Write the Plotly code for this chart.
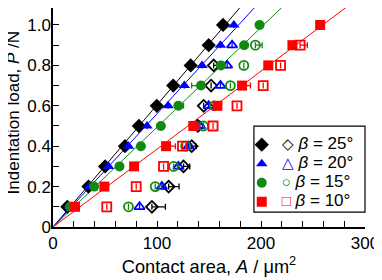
import numpy as np
import plotly.graph_objects as go

# ---- data ----
angles = ["25", "20", "15", "10"]
colors = ["#000000", "#0000ff", "#108a10", "#ff0000"]
sym_filled = ["diamond", "triangle-up", "circle", "square"]
sym_open = ["diamond-open", "triangle-up-open", "circle-open", "square-open"]
open_glyph = ["◇", "△", "○", "□"]

P_load = [0.1, 0.2, 0.3, 0.4, 0.5, 0.6, 0.7, 0.8, 0.9, 1.0]
A25_load = [13.8, 34.1, 50.1, 69.2, 82.6, 99.8, 115.6, 132.4, 149.7, 163.5]
A20_load = [14.8, 35.1, 53.4, 72.6, 90.4, 110.7, 126.3, 143.3, 161, 173.9]
A15_load = [16.3, 39.5, 63.9, 84.5, 103.7, 120.5, 142.3, 161.5, 183.8, 198.6]
A10_load = [21.2, 49.4, 78, 108.7, 134.9, 158.1, 181.8, 207, 230.2, 256.9]
E25_load_p = [0, 0, 0, 0, 0, 0, 0, 0, 0, 0]
E20_load_p = [0, 0, 0, 0, 0, 0, 0, 0, 0, 0]
E15_load_p = [0, 0, 0, 0, 0, 5, 0, 0, 0, 0]
E10_load_p = [0, 0, 0, 9, 6, 0, 8, 0, 0, 0]
E15_load_m = [0, 0, 0, 0, 0, 0, 9, 0, 0, 0]

P25_open = [0.1, 0.2, 0.3, 0.4, 0.5, 0.6, 0.7, 0.8]
A25_open = [95.1, 111.2, 125.5, 133.4, 139.3, 144.9, 152, 154.5]
E25_open = [13, 10, 6, 4, 0, 0, 0, 4]
P20_open = [0.1, 0.2, 0.3, 0.4, 0.5, 0.6, 0.7, 0.8, 0.9]
A20_open = [83.2, 104.7, 120.5, 130.4, 141.3, 149.7, 161, 167.5, 172.2]
E20_open = [0, 0, 0, 0, 0, 0, 0, 0, 0]
P15_open = [0.1, 0.2, 0.3, 0.4, 0.5, 0.6, 0.7, 0.8, 0.9]
A15_open = [72.6, 98.3, 116, 127.5, 144.7, 155.1, 170.6, 183.5, 194.6]
E15_open = [0, 0, 0, 0, 0, 0, 0, 0, 6.5]
P10_open = [0.1, 0.2, 0.3, 0.4, 0.5, 0.6, 0.7, 0.8, 0.9]
A10_open = [51.7, 80, 106.3, 124.5, 153.9, 176.9, 202.1, 218.8, 237.6]
E10_open = [0, 0, 0, 0, 0, 0, 0, 0, 7]

x_ticks = [0, 100, 200, 300]
y_ticks = [0, 0.2, 0.4, 0.6, 0.8, 1.0]
y_ticktext = ["0", "0.2", "0.4", "0.6", "0.8", "1.0"]

loads = [A25_load, A20_load, A15_load, A10_load]
loads_ep = [E25_load_p, E20_load_p, E15_load_p, E10_load_p]
loads_em = [None, None, E15_load_m, None]
opens = [(P25_open, A25_open, E25_open), (P20_open, A20_open, E20_open),
         (P15_open, A15_open, E15_open), (P10_open, A10_open, E10_open)]

FONT = "Liberation Sans, Arial, sans-serif"
fig = go.Figure()

# fitted lines through origin
P_arr = np.array(P_load)
for i in range(4):
    A = np.array(loads[i])
    slope = float(np.sum(A * P_arr) / np.sum(P_arr ** 2))
    Pl = np.array([0.0, 1.2])
    fig.add_trace(go.Scatter(x=slope * Pl, y=Pl, mode="lines",
                             line=dict(color=colors[i], width=1),
                             showlegend=False, hoverinfo="skip"))

# open markers (unloading)
for i in range(4):
    P, A, E = opens[i]
    fig.add_trace(go.Scatter(
        x=A, y=P, mode="markers",
        marker=dict(symbol=sym_open[i], size=9, color=colors[i],
                    line=dict(width=1.8, color=colors[i])),
        error_x=dict(type="data", symmetric=False, array=E,
                     arrayminus=[0] * len(E), color=colors[i],
                     thickness=1.3, width=3),
        showlegend=False))

# filled markers (loading)
for i in range(4):
    em = loads_em[i] if loads_em[i] is not None else [0] * len(P_load)
    fig.add_trace(go.Scatter(
        x=loads[i], y=P_load, mode="markers",
        marker=dict(symbol=sym_filled[i], size=11 if i == 0 else 10,
                    color=colors[i], line=dict(width=0)),
        error_x=dict(type="data", symmetric=False, array=loads_ep[i],
                     arrayminus=em, color=colors[i], thickness=1.3, width=3),
        name=(f'<span style="color:{colors[i]};font-size:15px">{open_glyph[i]}</span>'
              f'<span style="font-size:17px"> <i>β</i> = {angles[i]}°</span>'),
        showlegend=True))

fig.update_layout(
    width=374, height=272,
    margin=dict(l=45, r=17, t=0, b=53),
    paper_bgcolor="white", plot_bgcolor="white",
    font=dict(family=FONT, size=17, color="black"),
    showlegend=True,
    legend=dict(x=0.605, y=0.442, xanchor="left", yanchor="top",
                bgcolor="rgba(255,255,255,0)", borderwidth=0,
                font=dict(size=11.8), tracegroupgap=0, itemwidth=30),
    shapes=[dict(type="rect", xref="paper", yref="paper",
                 x0=0.644, x1=1.0, y0=0.068, y1=0.461,
                 line=dict(color="black", width=1.2),
                 fillcolor="white", layer="below")],
    annotations=[dict(text="Indentation load, <i>P</i> /N", textangle=-90,
                      xref="paper", yref="paper", x=-0.127, y=0.525,
                      xanchor="center", yanchor="middle", showarrow=False,
                      font=dict(size=17))],
)
fig.update_xaxes(range=[0, 300], tickvals=x_ticks, ticks="inside", ticklen=6,
                 tickwidth=1.2, tickcolor="black", automargin=False,
                 minor=dict(dtick=20, ticks="inside", ticklen=6,
                            tickwidth=1.2, tickcolor="black"),
                 showline=True, linecolor="black", linewidth=1.5,
                 showgrid=False, zeroline=False,
                 title=dict(text="Contact area, <i>A</i> / μm<sup>2</sup>",
                            standoff=4, font=dict(size=18.2)))
fig.update_yaxes(range=[0, 1.084], tickvals=y_ticks, ticktext=y_ticktext,
                 ticks="inside", ticklen=6, tickwidth=1.2, tickcolor="black",
                 automargin=False, ticklabelstandoff=-3,
                 minor=dict(dtick=0.1, ticks="inside", ticklen=6,
                            tickwidth=1.2, tickcolor="black"),
                 showline=True, linecolor="black", linewidth=1.5,
                 showgrid=False, zeroline=False)

fig.write_html("out.html")
